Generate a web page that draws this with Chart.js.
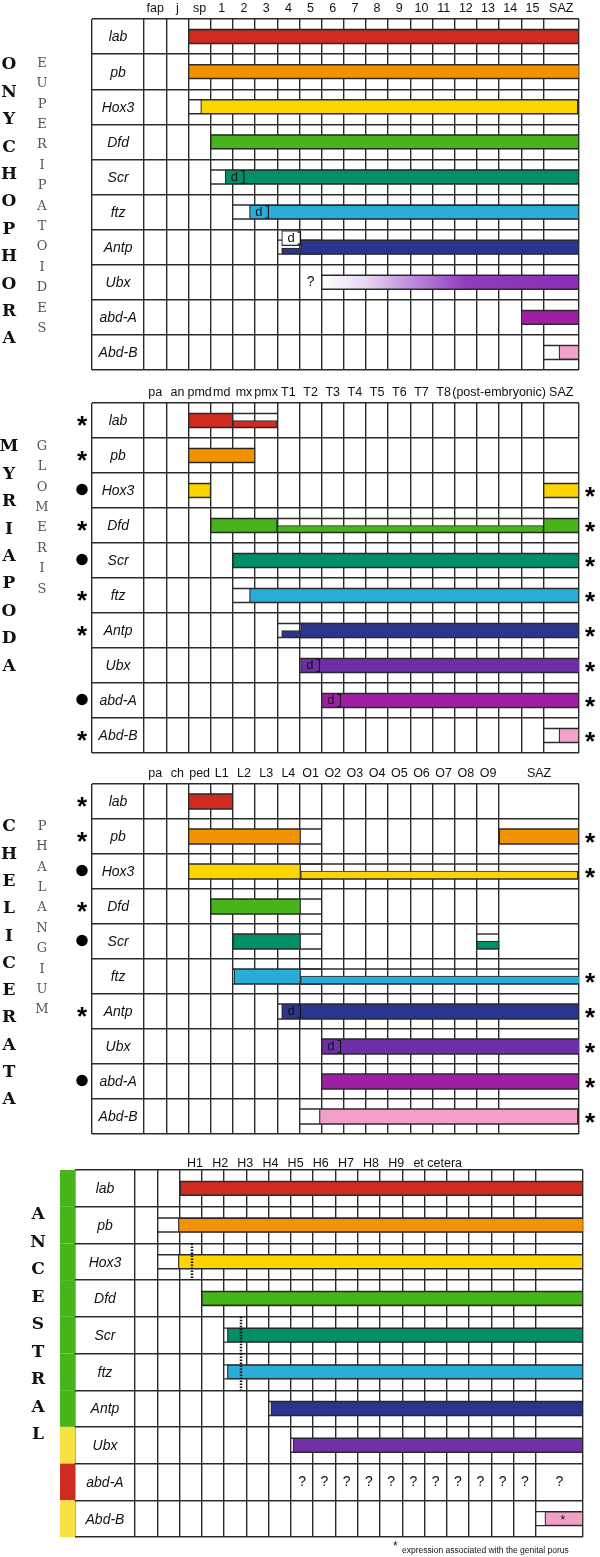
<!DOCTYPE html>
<html><head><meta charset="utf-8">
<script src="https://cdn.jsdelivr.net/npm/chart.js@4"></script>
<style>
html,body{margin:0;padding:0;background:#fff}
body{width:600px;height:1557px;position:relative;overflow:hidden;font-family:"Liberation Sans",Arial,sans-serif}
canvas{position:absolute;left:0}
.foot{position:absolute;font-size:8.5px;color:#111;white-space:nowrap}
.hdr{position:absolute;font-size:12.5px;color:#111;white-space:nowrap;line-height:14px}
</style></head><body>
<canvas id="c1" width="600" height="380" style="top:0px"></canvas>
<canvas id="c2" width="600" height="380" style="top:383px"></canvas>
<canvas id="c3" width="600" height="380" style="top:764px"></canvas>
<canvas id="c4" width="600" height="400" style="top:1148px"></canvas>
<div class="foot" style="left:393px;top:1539px;font-size:12px">*</div>
<div class="foot" style="left:402px;top:1545px">expression associated with the genital porus</div>
<script>
// ---------- shared ----------
const genes = ['lab','pb','Hox3','Dfd','Scr','ftz','Antp','Ubx','abd-A','Abd-B'];
const geneColors = {'lab':'#d02b20','pb':'#f39200','Hox3':'#fcd500','Dfd':'#47b419','Scr':'#008f66','ftz':'#2aacd8','Antp':'#2b3590','Ubx':'#6c2fa6','abd-A':'#a01ea6','Abd-B':'#f3a0c9'};

// ---------- Onychophora / Euperipatoides ----------
const onyHeaders = ['fap','j','sp','1','2','3','4','5','6','7','8','9','10','11','12','13','14','15','SAZ'];
const onyBars = [['lab',2,19.6],['pb',2,19.62],['Hox3',2.55,19.55],['Dfd',3,19.6],['Scr',3.65,19.6],['ftz',4.75,19.6],['Antp',7.05,19.6],['Ubx',8,19.6],['abd-A',17,19.6],['Abd-B',18.7,19.6]];
const onyThin = [['Antp',6.2,7.05]];
const onyBoxes = [['Antp',6.2,7.05]];
const onyDMarks = [['Scr',3.65],['ftz',4.75],['Antp',6.2]];
const onyQueries = [['Ubx',7]];
const onyGradient = ['Ubx'];

// ---------- Myriapoda / Glomeris ----------
const myrHeaders = ['pa','an','pmd','md','mx','pmx','T1','T2','T3','T4','T5','T6','T7','T8','(post-embryonic)',null,null,null,'SAZ'];
const myrBars = [['lab',2,4],['pb',2,5],['Hox3',2,3],['Hox3',18,19.6],['Dfd',3,6],['Dfd',18,19.6],['Scr',4,19.6],['ftz',4.75,19.6],['Antp',7.05,19.6],['Ubx',7.05,19.65],['abd-A',8,19.6],['Abd-B',18.7,19.6]];
const myrThin = [['lab',4,6],['Dfd',6,18],['Antp',6.2,7.05]];
const myrDMarks = [['Ubx',7.05],['abd-A',8]];
const myrLeft  = ['*','*','o','*','o','*','*','','o','*'];
const myrRight = ['','','*','*','*','*','*','*','*','*'];

// ---------- Chelicerata / Phalangium ----------
const cheHeaders = ['pa','ch','ped','L1','L2','L3','L4','O1','O2','O3','O4','O5','O6','O7','O8','O9','SAZ'];
const cheBars = [['lab',2,4],['pb',2,7.05],['pb',16,19.6],['Hox3',2,7.05],['Dfd',3,7.05],['Scr',4,7.05],['ftz',4.05,7.05],['Antp',6.2,19.6],['Ubx',8,19.65],['abd-A',8,19.6],['Abd-B',7.9,19.55]];
const cheThin = [['Hox3',7.05,19.55],['Scr',15,16],['ftz',7.05,19.65]];
const cheDMarks = [['Antp',6.2],['Ubx',8]];
const cheLeft  = ['*','*','o','*','o','','*','','o',''];
const cheRight = ['','*','*','','','*','*','*','*','*'];

// ---------- Ancestral ----------
const ancHeaderSegs = ['H1','H2','H3','H4','H5','H6','H7','H8','H9'];
const ancHeaderTail = 'et cetera';
const ancColumns = ['','','','','','','','','','','','','','','','','','',''];
const ancBars = [['lab',2.03,20.11],['pb',1.95,20.14],['Hox3',1.95,20.11],['Dfd',3,20.11],['Scr',4.15,20.11],['ftz',4.15,20.11],['Antp',6.1,20.11],['Ubx',7.1,20.11],['Abd-B',18.4,20.11]];
const ancQueries = [['abd-A',7],['abd-A',8],['abd-A',9],['abd-A',10],['abd-A',11],['abd-A',12],['abd-A',13],['abd-A',14],['abd-A',15],['abd-A',16],['abd-A',17],['abd-A',18]];
const ancStars = [['Abd-B',19.2]];
const ancDotted = [['Hox3',2.56],['Scr',4.76],['ftz',4.76]];
const ancStrip = ['#47b419','#47b419','#47b419','#47b419','#47b419','#47b419','#47b419','#f8e243','#d02b20','#f8e243'];

// ---------- drawing ----------
const GRID = '#2b2b2b', GRIDW = 1.4, TOPAX = 16;

function edgesFor(headers, max){ const e=[]; for(let i=0;i<headers.length;i++) e.push(i); e.push(max); return e; }
function headerTicks(headers, max){
  const edges = edgesFor(headers,max), out=[];
  headers.forEach((h,i)=>{
    if (h===null) { out[out.length-1].to = edges[i+1]; return; }
    out.push({label:h, from:edges[i], to:edges[i+1]});
  });
  return out.filter(t=>t.label!=='').map(t=>({value:(t.from+t.to)/2,label:t.label}));
}
function floorEdge(edges,v){ let r=edges[0]; for(const e of edges) if(e<=v+1e-6) r=e; return r; }
function ceilEdge(edges,v){ for(const e of edges) if(e>=v-1e-6) return e; return edges[edges.length-1]; }

function makePanel(id, p){
  const rowPx = (p.gridBottom-p.gridTop)/genes.length;
  const edges = edgesFor(p.headers, p.max);
  const ticksTop = headerTicks(p.headers, p.max);
  const TH = p.thick, TN = p.thinW;
  const thickData = p.bars.map(([g,s,e])=>({x:[s,e], y:genes.indexOf(g)+0.5, g, grad:(p.gradient||[]).includes(g)}));
  const thinData = (p.thin||[]).map(([g,s,e])=>({x:[s,e], y:genes.indexOf(g)+0.5+(TH-TN)/2/rowPx, g}));
  const boxData = (p.boxes||[]).map(([g,s,e])=>({x:[s,e], y:genes.indexOf(g)+0.5-9/rowPx, g}));
  const colorOf = c => {
    const r = c.raw; if(!r) return '#fff';
    if (r.grad){
      const xs = c.chart.scales.x; const a = xs && xs.getPixelForValue(r.x[0]), b = xs && xs.getPixelForValue(r.x[1]);
      if (!isFinite(a)||!isFinite(b)||a===b) return '#8a2db8';
      const gr = c.chart.ctx.createLinearGradient(a,0,b,0);
      gr.addColorStop(0,'#ffffff'); gr.addColorStop(0.17,'#e6d8f1'); gr.addColorStop(0.36,'#bb88d8');
      gr.addColorStop(0.56,'#903cbd'); gr.addColorStop(1,'#8a2db8'); return gr;
    }
    return (p.colors && p.colors[r.g]) || geneColors[r.g];
  };
  const decor = {
    id:'decor'+id,
    beforeDatasetsDraw(chart){
      const {ctx, scales:{x,y}} = chart;
      ctx.save(); ctx.strokeStyle = GRID; ctx.lineWidth = GRIDW;
      [...p.bars, ...(p.thin||[])].forEach(([g,s,e])=>{
        const cy = y.getPixelForValue(genes.indexOf(g)+0.5);
        const a = x.getPixelForValue(floorEdge(edges,s)), b = x.getPixelForValue(ceilEdge(edges,e));
        [cy-TH/2, cy+TH/2].forEach(yy=>{ ctx.beginPath(); ctx.moveTo(a,yy); ctx.lineTo(b,yy); ctx.stroke(); });
      });
      ctx.restore();
    },
    afterDatasetsDraw(chart){
      const {ctx, chartArea:ca, scales:{x,y}} = chart;
      const rowY = g => y.getPixelForValue(genes.indexOf(g)+0.5);
      ctx.save();
      ctx.fillStyle='#111'; ctx.textAlign='center'; ctx.textBaseline='middle';
      ctx.font='italic 14px "Liberation Sans", Arial, sans-serif';
      const nameX = (ca.left + x.getPixelForValue(0))/2;
      genes.forEach((g,i)=> ctx.fillText(g, nameX, y.getPixelForValue(i+0.5)+1));
      (p.dmarks||[]).forEach(([g,s])=>{
        const hasBox = (p.boxes||[]).some(b=>b[0]===g);
        const cy = hasBox ? y.getPixelForValue(genes.indexOf(g)+0.5-9/rowPx) : rowY(g);
        const dx = x.getPixelForValue(s+0.42), bx = x.getPixelForValue(s+0.85);
        ctx.fillStyle = '#111'; ctx.font='13px "Liberation Sans", Arial, sans-serif';
        ctx.fillText('d', dx, cy);
        ctx.strokeStyle='#111'; ctx.lineWidth=1.1;
        ctx.beginPath(); ctx.moveTo(bx-3, cy-6); ctx.lineTo(bx, cy-6); ctx.lineTo(bx, cy+6); ctx.lineTo(bx-3, cy+6); ctx.stroke();
      });
      ctx.fillStyle='#111'; ctx.font='14px "Liberation Sans", Arial, sans-serif';
      (p.queries||[]).forEach(([g,c])=>{
        const cx = (x.getPixelForValue(c)+x.getPixelForValue(ceilEdge(edges,c+0.5)))/2;
        ctx.fillText('?', cx, rowY(g));
      });
      (p.stars||[]).forEach(([g,v])=>{ ctx.font='12px "Liberation Sans", Arial'; ctx.fillText('*', x.getPixelForValue(v), rowY(g)+2); });
      (p.dotted||[]).forEach(([g,v])=>{
        const r = genes.indexOf(g), px = x.getPixelForValue(v);
        ctx.strokeStyle='#111'; ctx.lineWidth=2.5; ctx.setLineDash([1.5,1.5]);
        ctx.beginPath(); ctx.moveTo(px, y.getPixelForValue(r)); ctx.lineTo(px, y.getPixelForValue(r+1)); ctx.stroke();
        ctx.setLineDash([]);
      });
      (p.strip||[]).forEach((col,i)=>{
        ctx.fillStyle=col; const t=y.getPixelForValue(i), b=y.getPixelForValue(i+1);
        ctx.fillRect(ca.left-15, t, 15, b-t);
      });
      const drawMark = (m, mx, my) => {
        if (m==='*'){ ctx.fillStyle='#000'; ctx.font='bold 26px "Liberation Sans", Arial, sans-serif'; ctx.textBaseline='alphabetic'; ctx.fillText('*', mx, my+14); ctx.textBaseline='middle'; }
        else if (m==='o'){ ctx.fillStyle='#000'; ctx.beginPath(); ctx.arc(mx, my, 5.7, 0, Math.PI*2); ctx.fill(); }
      };
      (p.leftMarks||[]).forEach((m,i)=> drawMark(m, ca.left-10, y.getPixelForValue(i+0.5)-1));
      (p.rightMarks||[]).forEach((m,i)=> drawMark(m, ca.right+11, y.getPixelForValue(i+0.5)));
      ctx.restore();
    }
  };
  const ds = [];
  ds.push({data:thinData, barThickness:TN, order:1});
  ds.push({data:thickData, barThickness:TH, order:2});
  ds.push({data:boxData, barThickness:15, order:3, backgroundColor:'#ffffff'});
  ds.forEach(d=>{ d.stack='s'; d.borderColor='#2a2a2a'; d.borderWidth=1.2; d.borderSkipped=false; if(!d.backgroundColor) d.backgroundColor=colorOf; });
  new Chart(document.getElementById(id), {
    type:'bar',
    data:{datasets:ds},
    plugins:[decor],
    options:{
      indexAxis:'y', responsive:false, animation:false, events:[],
      layout:{padding:{left:p.x0, right:600-p.x1, top:p.gridTop-p.canvasTop-TOPAX, bottom:p.canvasTop+p.canvasH-p.gridBottom}},
      plugins:{legend:{display:false}, tooltip:{enabled:false}},
      scales:{
        x:{type:'linear', min:-p.labelUnits, max:p.max, stacked:false, offset:false,
           afterBuildTicks:s=>{ s.ticks=[-p.labelUnits, ...edges].map(v=>({value:v})); },
           afterFit:s=>{ s.height=0; },
           ticks:{display:false}, grid:{color:GRID, lineWidth:GRIDW, drawTicks:false, offset:false}, border:{display:false}},
        xt:{type:'linear', position:'top', min:-p.labelUnits, max:p.max, offset:false,
           afterBuildTicks:s=>{ s.ticks=ticksTop.map(t=>({value:t.value})); },
           afterFit:s=>{ s.height=TOPAX; },
           ticks:{autoSkip:false, maxRotation:0, padding:3, color:'#111', font:{family:'"Liberation Sans", Arial, sans-serif', size:12.5},
                  callback:(v,i)=>ticksTop[i] ? ticksTop[i].label : ''},
           grid:{display:false, drawTicks:false}, border:{display:false}},
        y:{type:'linear', min:0, max:genes.length, reverse:true, offset:false,
           afterBuildTicks:s=>{ s.ticks=genes.map((g,i)=>({value:i})).concat([{value:genes.length}]); },
           afterFit:s=>{ s.width=0; },
           ticks:{display:false}, grid:{color:GRID, lineWidth:GRIDW, drawTicks:false, offset:false}, border:{display:false}}
      }
    }
  });
}

makePanel('c1', {canvasTop:0, canvasH:380, x0:92, x1:579, gridTop:19, gridBottom:370, labelUnits:2.35, max:19.6,
  headers:onyHeaders, bars:onyBars, thin:onyThin, boxes:onyBoxes, dmarks:onyDMarks, queries:onyQueries, gradient:onyGradient, thick:14, thinW:6});
makePanel('c2', {canvasTop:383, canvasH:380, x0:92, x1:579, gridTop:403, gridBottom:753, labelUnits:2.35, max:19.6,
  headers:myrHeaders, bars:myrBars, thin:myrThin, dmarks:myrDMarks, leftMarks:myrLeft, rightMarks:myrRight, thick:14, thinW:7});
makePanel('c3', {canvasTop:764, canvasH:380, x0:92, x1:579, gridTop:784, gridBottom:1134, labelUnits:2.35, max:19.6,
  headers:cheHeaders, bars:cheBars, thin:cheThin, dmarks:cheDMarks, leftMarks:cheLeft, rightMarks:cheRight, thick:15, thinW:8});
makePanel('c4', {canvasTop:1148, canvasH:400, x0:75, x1:583, gridTop:1170, gridBottom:1537, labelUnits:2.69, max:20.11,
  headers:ancColumns, bars:ancBars, queries:ancQueries, stars:ancStars, dotted:ancDotted, strip:ancStrip, thick:14, thinW:7,
  colors:{'Ubx':'#7030a8'}});

// header line of the ancestral panel
const hd = document.createElement('div'); hd.className='hdr';
hd.style.left='187px'; hd.style.top='1156px';
const s1 = document.createElement('span'); s1.style.wordSpacing='5.7px'; s1.textContent = ancHeaderSegs.join(' ') + ' ';
const s2 = document.createElement('span'); s2.textContent = ancHeaderTail;
hd.appendChild(s1); hd.appendChild(s2); document.body.appendChild(hd);

// ---------- vertical titles ----------
function vtitle(txt, cx, cy0, step, size, weight, color, fam){
  [...txt].forEach((ch,i)=>{
    const d=document.createElement('div'); d.textContent=ch;
    d.style.cssText=`position:absolute;left:${cx-15}px;width:30px;top:${cy0+i*step-step/2+1}px;height:${step}px;line-height:${step}px;text-align:center;font-weight:${weight};font-size:${size}px;font-family:${fam};color:${color}`;
    document.body.appendChild(d);
  });
}
const BIG = '"DejaVu Serif","Liberation Serif",serif';
const SMALL = '"DejaVu Serif","Liberation Serif",serif';
vtitle('ONYCHOPHORA', 9, 63, 27.4, 17, 'bold', '#111', BIG);
vtitle('EUPERIPATOIDES', 42, 62, 20.4, 13, 'normal', '#555', SMALL);
vtitle('MYRIAPODA', 9, 445, 27.4, 17, 'bold', '#111', BIG);
vtitle('GLOMERIS', 42, 445, 20.4, 13, 'normal', '#555', SMALL);
vtitle('CHELICERATA', 9, 825, 27.3, 17, 'bold', '#111', BIG);
vtitle('PHALANGIUM', 42, 825, 20.4, 13, 'normal', '#555', SMALL);
vtitle('ANCESTRAL', 38, 1213, 27.5, 17, 'bold', '#111', BIG);
</script>
</body></html>
